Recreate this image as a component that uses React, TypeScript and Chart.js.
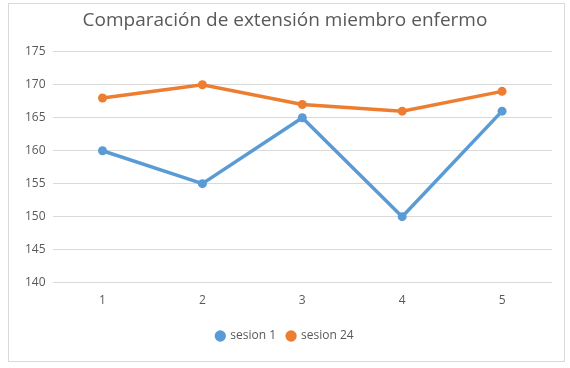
import React, { useEffect, useRef } from "react";
import { Chart, registerables } from "chart.js";

Chart.register(...registerables);

const categories = ["1", "2", "3", "4", "5"];
const sesion1 = [160, 155, 165, 150, 166];
const sesion24 = [168, 170, 167, 166, 169];
const seriesNames = ["sesion 1", "sesion 24"];
const titleText = "Comparación de extensión miembro enfermo";

const FONT = "'Open Sans', Calibri, sans-serif";

export default function App() {
  const ref = useRef<HTMLCanvasElement>(null);
  useEffect(() => {
    if (!ref.current) return;
    const chart = new Chart(ref.current, {
      type: "line",
      data: {
        labels: categories,
        datasets: [
          {
            label: seriesNames[0],
            data: sesion1,
            borderColor: "#5B9BD5",
            backgroundColor: "#5B9BD5",
            borderWidth: 3.5,
            pointRadius: 4.5,
            pointBorderWidth: 0,
            pointHoverRadius: 4.5,
            tension: 0,
          },
          {
            label: seriesNames[1],
            data: sesion24,
            borderColor: "#ED7D31",
            backgroundColor: "#ED7D31",
            borderWidth: 3.5,
            pointRadius: 4.5,
            pointBorderWidth: 0,
            pointHoverRadius: 4.5,
            tension: 0,
          },
        ],
      },
      options: {
        animation: false,
        responsive: false,
        maintainAspectRatio: false,
        layout: { padding: { left: 18, right: 18, top: 6, bottom: 16 } },
        plugins: {
          title: {
            display: true,
            text: titleText,
            color: "#595959",
            font: { family: FONT, size: 19, weight: "normal" },
            padding: { top: 3, bottom: 20 },
          },
          legend: {
            position: "bottom",
            labels: {
              usePointStyle: true,
              pointStyle: "circle",
              boxWidth: 8,
              boxHeight: 8,
              color: "#595959",
              font: { family: FONT, size: 12 },
              padding: 11,
            },
          },
          tooltip: { enabled: false },
        },
        scales: {
          x: {
            offset: true,
            grid: { display: false },
            border: { display: false },
            ticks: {
              color: "#595959",
              font: { family: FONT, size: 12 },
              padding: 3,
            },
            afterFit: (axis: any) => {
              axis.height += 8;
            },
          },
          y: {
            min: 140,
            max: 175,
            ticks: {
              stepSize: 5,
              color: "#595959",
              font: { family: FONT, size: 12 },
              padding: 7,
            },
            grid: { color: "#d9d9d9", lineWidth: 1, drawTicks: false },
            border: { display: false },
          },
        },
      },
    });
    return () => chart.destroy();
  }, []);
  return (
    <div style={{ position: "fixed", left: 0, top: 0, width: 570, height: 368, background: "#fff" }}>
      <div
        style={{
          position: "absolute",
          left: 8,
          top: 3,
          width: 557,
          height: 359,
          border: "1px solid #d9d9d9",
          boxSizing: "border-box",
        }}
      />
      <canvas ref={ref} width={570} height={368} style={{ position: "absolute", left: 0, top: 0 }} />
    </div>
  );
}
